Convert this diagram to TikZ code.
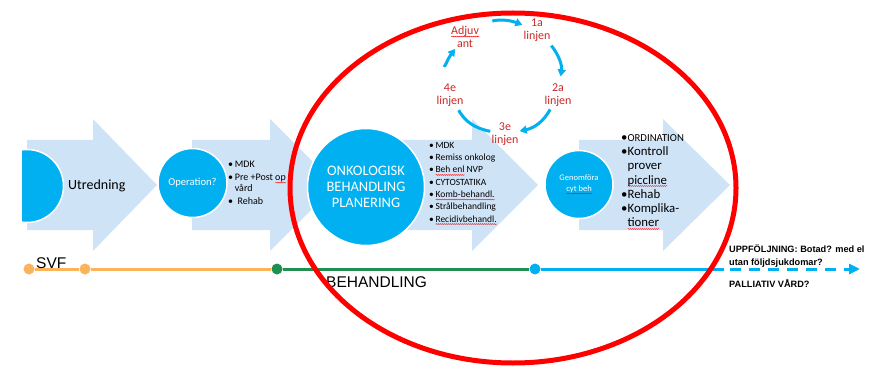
\documentclass[tikz,border=0pt]{standalone}
\usepackage{fontspec}
\setmainfont{Carlito}
\newfontfamily\arialfont{Liberation Sans}
\usetikzlibrary{arrows.meta,decorations.pathmorphing}
\definecolor{pale}{RGB}{207,227,247}
\definecolor{cyanb}{RGB}{0,176,240}
\definecolor{orangel}{RGB}{251,180,90}
\definecolor{greenl}{RGB}{32,144,80}
\definecolor{redtxt}{RGB}{200,40,40}
\newlength\spellwd
\newcommand\spell[1]{\settowidth\spellwd{#1}\rlap{\tikz[x=1pt,y=1pt,baseline=0pt]\draw[red,line width=0.4pt,decorate,decoration={snake,amplitude=0.5pt,segment length=2pt}] (0,-2) -- (\spellwd,-2);}#1}
\begin{document}
\begin{tikzpicture}[x=1pt,y=-1pt,line join=round,>={Triangle[length=7pt,width=8pt]},
 stage/.style={circle,fill=cyanb,draw=white,line width=1.5pt,text=white,align=center,inner sep=0pt},
 blist/.style={anchor=north west,align=left,inner sep=0pt,font=\fontsize{9.5}{12.3}\selectfont},
 lin/.style={text=redtxt,align=center,inner sep=1pt,font=\fontsize{12}{13}\selectfont},
 cyc/.style={draw=cyanb,line width=3pt},
 dot/.style={circle,inner sep=0pt,minimum size=11pt},
 tl/.style={line width=3pt}]
\useasboundingbox (0,0) rectangle (869,366);
% stage arrows
\begin{scope}
\clip (22,0) rectangle (869,366);
\foreach \a/\h/\t in {27/93/157,192/270/336,366/472/538,579/663/730}
  \fill[pale] (\a,140) -- (\h,140) -- (\h,119) -- (\t,185) -- (\h,251) -- (\h,230) -- (\a,230) -- cycle;
\node[stage,minimum size=73pt] (utr) at (27,186) {};
\end{scope}
\node[anchor=west,inner sep=0pt,font=\fontsize{14}{14}\selectfont] (utrt) at (68,186) {Utredning};
\node[stage,minimum size=69pt,font=\fontsize{10.6}{12}\selectfont] (op) at (192.5,183) {Operation?};
\node[blist,font=\fontsize{10}{9.5}\selectfont] (opl) at (228,161) {\textbullet\,MDK\\[3.5pt]\textbullet\,Pre +Post \spell{op}\\\phantom{\textbullet\,}vård\\[3.5pt]\textbullet\;\,Rehab};
\node[stage,minimum size=117pt,font=\fontsize{14.5}{16}\selectfont] (onk) at (366,187) {ONKOLOGISK\\BEHANDLING\\PLANERING};
\node[blist] (onkl) at (429,142) {\textbullet\,MDK\\\textbullet\,Remiss onkolog\\\textbullet\,\spell{Beh enl} NVP\\\textbullet\,CYTOSTATIKA\\\textbullet\,\spell{Komb-behandl.}\\\textbullet\,Strålbehandling\\\textbullet\,\spell{Recidivbehandl.}};
\node[stage,minimum size=68pt,font=\fontsize{8.5}{11}\selectfont] (gen) at (579,184.5) {Genomföra\\\spell{cyt beh}};
\node[blist,font=\fontsize{12.8}{14.3}\selectfont] (genl) at (621,134) {\textbullet{\fontsize{10.7}{14}\selectfont ORDINATION}\\\textbullet Kontroll\\\phantom{\textbullet}prover\\\phantom{\textbullet}\spell{piccline}\\\textbullet Rehab\\\textbullet Komplika-\\\phantom{\textbullet}\spell{tioner}};
% treatment lines
\node[lin] (adj) at (465,37) {\spell{Adjuv}\\ant};
\node[lin] (l1) at (537,30) {1a\\linjen};
\node[lin] (l2) at (558,95) {2a\\linjen};
\node[lin] (l3) at (505,134) {3e\\linjen};
\node[lin] (l4) at (450,95) {4e\\linjen};
\draw[cyc,->,shorten <=14pt] (adj) to[bend left=25] (l1);
\draw[cyc,->,shorten <=4pt,shorten >=6pt] (l1) to[bend left=25] (l2);
\draw[cyc,->,shorten <=2pt] (l2) to[bend left=25] (l3);
\draw[cyc,shorten >=3pt] (l3) to[bend left=25] (l4);
\draw[cyc,->,shorten <=18pt] (l4) to[bend left=25] (adj);
% timeline
\node[dot,fill=orangel] (s1) at (29,269) {};
\node[dot,fill=orangel] (s2) at (85,269) {};
\node[dot,fill=greenl] (b1) at (277,269) {};
\node[dot,fill=cyanb] (g1) at (535,269) {};
\coordinate (g2) at (724,269);
\coordinate (g3) at (860,269);
\draw[tl,orangel] (s1) -- (s2) -- (b1);
\draw[tl,greenl] (b1) -- (g1);
\draw[tl,cyanb] (g1) -- (g2);
\draw[tl,cyanb,dash pattern=on 11pt off 8pt,dash phase=13pt,-{Triangle[length=11pt,width=10pt]}] (g2) -- (g3);
\node[anchor=west,inner sep=0pt,font=\arialfont\fontsize{15.5}{16}\selectfont] (svf) at (36,263) {SVF};
\node[anchor=west,inner sep=0pt,font=\arialfont\fontsize{15.5}{16}\selectfont] (beh) at (326,282) {BEHANDLING};
\node[anchor=north west,align=left,inner sep=0pt,font=\arialfont\bfseries\fontsize{9.2}{13}\selectfont] (uppf) at (729,244) {UPPFÖLJNING: Botad? med el\\utan följdsjukdomar?};
\node[anchor=west,inner sep=0pt,font=\arialfont\bfseries\fontsize{9.2}{13}\selectfont] (pall) at (729,283) {PALLIATIV VÅRD?};
% the red ring
\draw[red,line width=5pt] (513,188) ellipse [x radius=223pt,y radius=175pt];
\end{tikzpicture}
\end{document}
